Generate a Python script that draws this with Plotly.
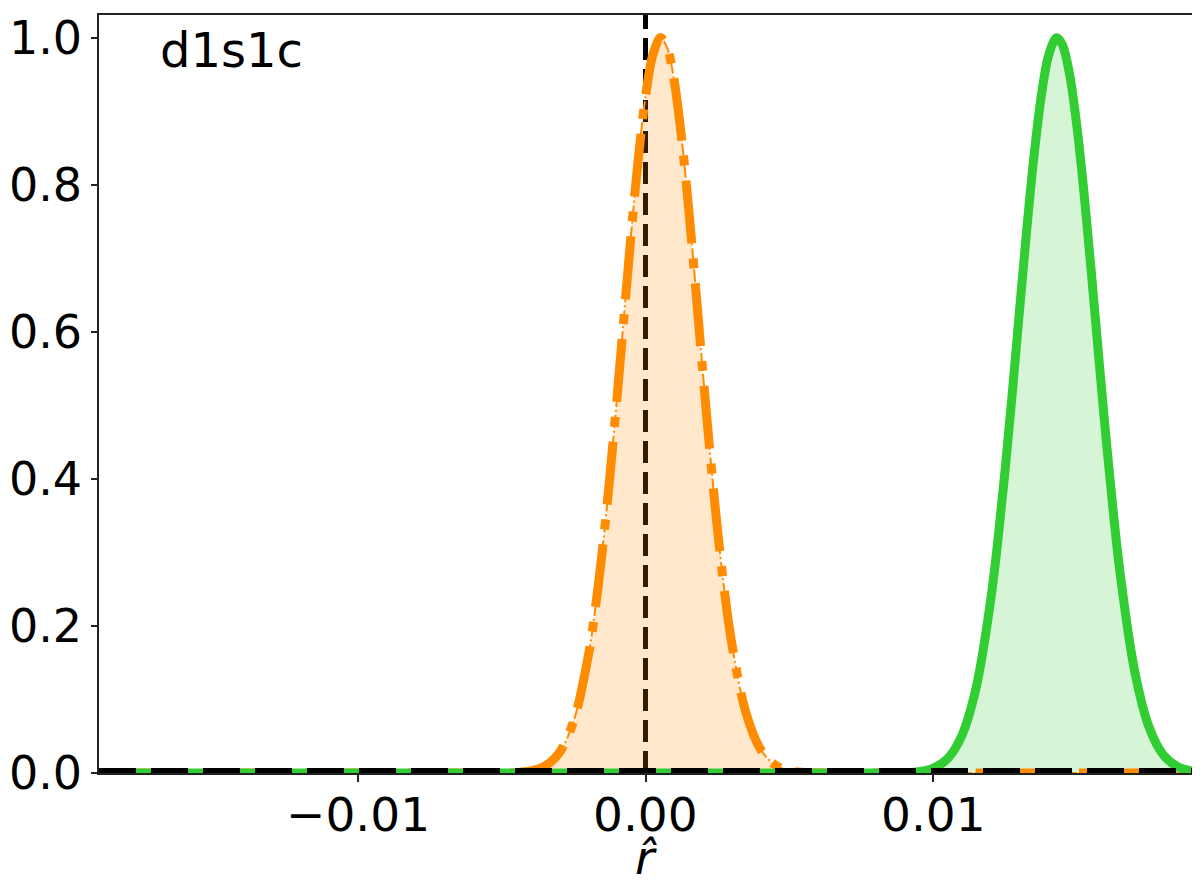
import plotly.graph_objects as go

# ---- data ----
orange_x = [-0.019, -0.006, -0.0055, -0.005, -0.0045, -0.004, -0.0035, -0.003, -0.0025,
            -0.002, -0.00175, -0.0015, -0.00125, -0.001, -0.00075, -0.0005, -0.00025,
            0.0, 0.00025, 0.0005, 0.00054, 0.00075, 0.001, 0.00125, 0.0015, 0.00175,
            0.002, 0.00225, 0.0025, 0.00275, 0.003, 0.0035, 0.004, 0.0045, 0.005,
            0.0055, 0.006, 0.0065, 0.019]
orange_y = [0.0, 0.00002, 0.00003, 0.00015, 0.00068, 0.0027, 0.0092, 0.0274, 0.0705,
            0.157, 0.222, 0.303, 0.399, 0.506, 0.620, 0.733, 0.836,
            0.920, 0.976, 1.000, 1.000, 0.987, 0.941, 0.865, 0.768, 0.657,
            0.542, 0.432, 0.332, 0.246, 0.176, 0.081, 0.0322, 0.0111, 0.0033,
            0.00086, 0.00019, 0.00003, 0.0]

green_x = [-0.019, 0.008, 0.0085, 0.009, 0.0095, 0.010, 0.0105, 0.011, 0.0115, 0.012,
           0.01225, 0.0125, 0.01275, 0.013, 0.01325, 0.0135, 0.01375, 0.014,
           0.01425, 0.01431, 0.0145, 0.01475, 0.015, 0.01525, 0.0155, 0.01575,
           0.016, 0.01625, 0.0165, 0.017, 0.0175, 0.018, 0.0185, 0.019]
green_y = [0.0, 0.00002, 0.0001, 0.00047, 0.00187, 0.00645, 0.0194, 0.0510, 0.117, 0.235,
           0.316, 0.411, 0.516, 0.628, 0.737, 0.837, 0.918, 0.974,
           0.999, 1.000, 0.990, 0.949, 0.879, 0.787, 0.681, 0.569,
           0.460, 0.360, 0.272, 0.140, 0.0631, 0.0248, 0.0085, 0.00255]

true_value = 0.0
x_range = [-0.019, 0.019]
y_range = [0.0, 1.031]
x_ticks = [-0.01, 0.0, 0.01]
x_tick_labels = ["\u22120.01", "0.00", "0.01"]
y_ticks = [0.0, 0.2, 0.4, 0.6, 0.8, 1.0]
y_tick_labels = ["0.0", "0.2", "0.4", "0.6", "0.8", "1.0"]
panel_label = "d1s1c"
x_title = "<i>r\u0302</i>"

ORANGE = "#FF8C00"
GREEN = "#32CD32"
FONT = "DejaVu Sans"
FS = 47

fig = go.Figure()

# vertical true-value line (under the fills)
fig.add_trace(go.Scatter(x=[true_value, true_value], y=[0, 1.2], mode="lines",
                         line=dict(color="black", width=5, dash="22px,9px"),
                         showlegend=False, hoverinfo="skip"))

# fills
fig.add_trace(go.Scatter(x=orange_x, y=orange_y, mode="lines", fill="tozeroy",
                         fillcolor="rgba(255,140,0,0.2)", line=dict(width=0, shape="spline"),
                         showlegend=False, hoverinfo="skip"))
fig.add_trace(go.Scatter(x=green_x, y=green_y, mode="lines", fill="tozeroy",
                         fillcolor="rgba(50,205,50,0.2)", line=dict(width=0, shape="spline"),
                         showlegend=False, hoverinfo="skip"))

# orange curves
fig.add_trace(go.Scatter(x=orange_x, y=orange_y, mode="lines",
                         line=dict(color=ORANGE, width=9, dash="63px,15px,10px,15px",
                                   shape="spline"),
                         showlegend=False))
fig.add_trace(go.Scatter(x=orange_x, y=orange_y, mode="lines",
                         line=dict(color=ORANGE, width=2, dash="13px,3px,2px,3px",
                                   shape="spline"),
                         showlegend=False))
# green curve
fig.add_trace(go.Scatter(x=green_x, y=green_y, mode="lines",
                         line=dict(color=GREEN, width=9, shape="spline"),
                         showlegend=False))
# horizontal zero line
fig.add_trace(go.Scatter(x=x_range, y=[0, 0], mode="lines",
                         line=dict(color="black", width=10, dash="37px,15px"),
                         showlegend=False, hoverinfo="skip"))

fig.add_annotation(text=panel_label, xref="paper", yref="paper", x=0.054, y=0.954,
                   xanchor="left", yanchor="middle", showarrow=False,
                   font=dict(family=FONT, size=48, color="black"))

# x tick labels
for xv, lab in zip(x_ticks, x_tick_labels):
    fig.add_annotation(text=lab, xref="x", yref="paper", x=xv, y=-0.0554,
                       xanchor="center", yanchor="middle", showarrow=False,
                       font=dict(family=FONT, size=FS, color="black"))
# x axis title
fig.add_annotation(text=x_title, xref="paper", yref="paper", x=0.5, y=-0.111,
                   xanchor="center", yanchor="middle", showarrow=False,
                   font=dict(family=FONT, size=FS, color="black"))

fig.update_layout(
    width=1200, height=884,
    margin=dict(l=91, r=16, t=7, b=119, autoexpand=False),
    paper_bgcolor="white", plot_bgcolor="white",
    font=dict(family=FONT, size=FS, color="black"),
    showlegend=False,
)
fig.update_xaxes(range=x_range, tickvals=x_ticks, showticklabels=False,
                 ticks="outside", ticklen=7, tickwidth=1.5, tickcolor="#222",
                 showline=True, linecolor="#222", linewidth=1.5, mirror=True,
                 showgrid=False, zeroline=False, automargin=False)
fig.update_yaxes(range=y_range, tickvals=y_ticks, ticktext=y_tick_labels,
                 ticks="outside", ticklen=6, tickwidth=1.5, tickcolor="#222",
                 tickfont=dict(family=FONT, size=46),
                 showline=True, linecolor="#222", linewidth=1.5, mirror=True,
                 showgrid=False, zeroline=False, automargin=False)

fig.write_html("out.html")
